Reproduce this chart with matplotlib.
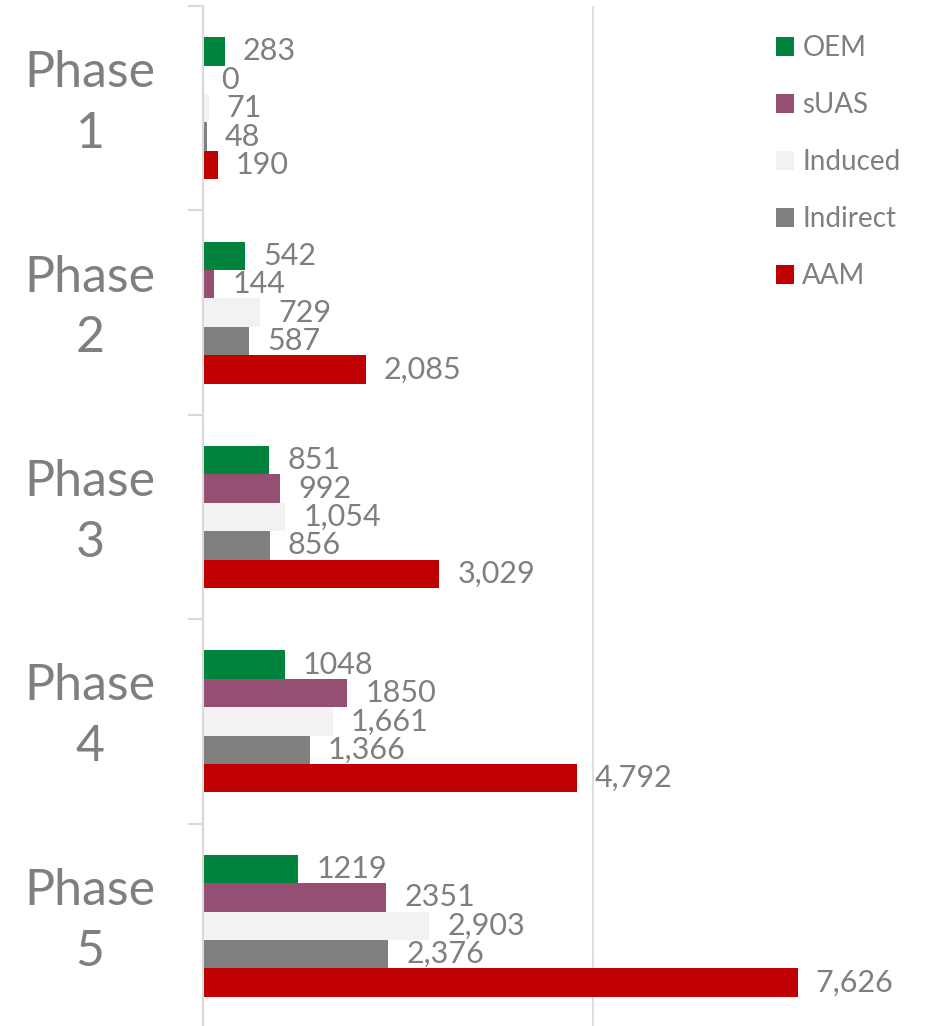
import numpy as np
import matplotlib.pyplot as plt
from matplotlib.transforms import blended_transform_factory, ScaledTranslation

# Data
phases = ["Phase\n1", "Phase\n2", "Phase\n3", "Phase\n4", "Phase\n5"]
series = ["OEM", "sUAS", "Induced", "Indirect", "AAM"]
oem = [283, 542, 851, 1048, 1219]
suas = [0, 144, 992, 1850, 2351]
induced = [71, 729, 1054, 1661, 2903]
indirect = [48, 587, 856, 1366, 2376]
aam = [190, 2085, 3029, 4792, 7626]

colors = ["#00843D", "#954F72", "#F2F2F2", "#7F7F7F", "#C00000"]
use_comma = [False, False, True, True, True]
text_gray = "#7F7F7F"
line_gray = "#D9D9D9"

plt.rcParams['font.family'] = ['Lato', 'DejaVu Sans']

W, H = 945, 1026
fig = plt.figure(figsize=(W / 100, H / 100), dpi=100)
ax = fig.add_axes([203 / W, -2 / H, 742 / W, 1022 / H])

y = np.arange(len(phases))
bar_h = 0.139
values = [oem, suas, induced, indirect, aam]

for i, (name, vals, col) in enumerate(zip(series, values, colors)):
    offs = (i - 2) * bar_h
    bars = ax.barh(y + offs, vals, height=bar_h, color=col, label=name, zorder=2)
    for rect, v in zip(bars, vals):
        txt = f"{v:,}" if use_comma[i] else f"{v}"
        ax.annotate(txt, (rect.get_width(), rect.get_y() + rect.get_height() / 2),
                    xytext=(13, 0), textcoords="offset points",
                    ha="left", va="center", fontsize=22, color=text_gray)

ax.set_xlim(0, 9515)
ax.set_ylim(len(phases) - 0.5, -0.5)

# x grid only at 5000
ax.set_xticks([0, 5000])
ax.tick_params(axis="x", length=0, labelbottom=False)
ax.xaxis.grid(True, color=line_gray, lw=1.2, zorder=0)

# category labels (drawn as text) and boundary ticks
ax.set_yticks(y)
ax.set_yticklabels([""] * len(phases))
ax.set_yticks(np.arange(-0.5, len(phases)), minor=True)
ax.tick_params(axis="y", which="major", length=0)
ax.tick_params(axis="y", which="minor", length=11, width=1.5, color=line_gray)

trans = blended_transform_factory(ax.transAxes, ax.transData) + \
    ScaledTranslation(0, 0.045, fig.dpi_scale_trans)
for yy, lab in zip(y, phases):
    ax.text(-113 / 742, yy, lab, transform=trans, ha="center", va="center",
            multialignment="center", linespacing=1.4, fontsize=36,
            color=text_gray, clip_on=False)

for s in ["top", "right", "bottom"]:
    ax.spines[s].set_visible(False)
ax.spines["left"].set_color(line_gray)
ax.spines["left"].set_linewidth(1.5)

leg = fig.legend(loc="upper left", bbox_to_anchor=(776 / W, 1 - 35 / H),
                 frameon=False, fontsize=20, labelcolor=text_gray,
                 handlelength=0.65, handleheight=0.65, handletextpad=0.3,
                 labelspacing=1.12, borderpad=0, borderaxespad=0)

fig.savefig("out.png", dpi=100)
